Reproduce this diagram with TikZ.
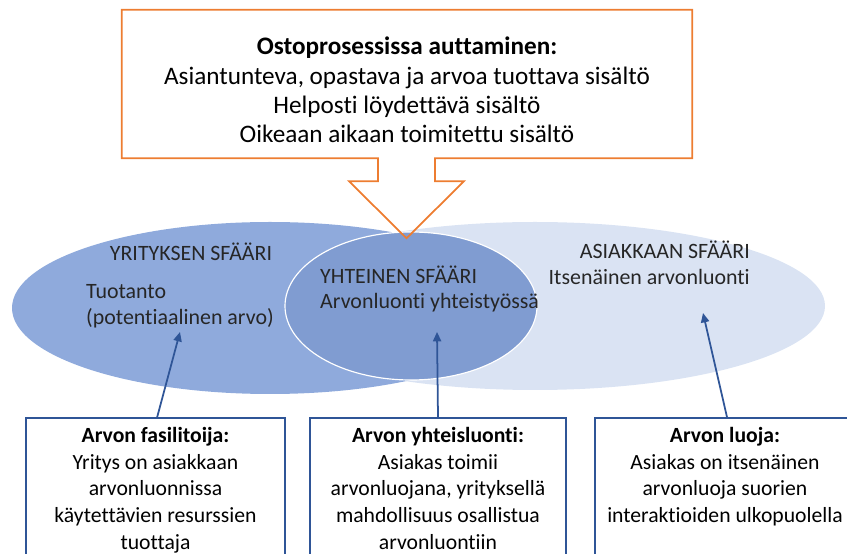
\documentclass[tikz,border=0pt]{standalone}
\usepackage{fontspec}
\setmainfont{Carlito}[Ligatures=NoCommon]
\usetikzlibrary{arrows.meta,positioning}

\definecolor{kehysoranssi}{RGB}{237,125,49}
\definecolor{tummasini}{RGB}{47,85,151}
\definecolor{yrityssini}{RGB}{143,170,220}
\definecolor{yhteissini}{RGB}{128,156,209}
\definecolor{asiakassini}{RGB}{218,227,243}
\definecolor{tekstiharmaa}{RGB}{38,38,38}

\begin{document}
\begin{tikzpicture}[
x=0.3mm, y=-0.3mm,
callout/.style={draw=kehysoranssi,line width=1.5pt,line join=miter},
calltext/.style={font=\fontsize{21.5}{25}\selectfont,align=center,inner sep=0pt},
sfaari/.style={font=\fontsize{18.7}{22}\selectfont,text=tekstiharmaa,inner sep=0pt},
infobox/.style={draw=tummasini,line width=1.5pt,minimum height=42.6mm,inner sep=0pt},
boxtext/.style={font=\fontsize{18.5}{22.8}\selectfont,align=center,inner sep=0pt,anchor=north},
arrow/.style={-{Triangle[length=8pt,width=7pt]},draw=tummasini,line width=1.5pt} ]

\useasboundingbox (0,0) rectangle (847,554);

% sfaarit
\fill[asiakassini] (535,306) ellipse [x radius=290, y radius=84];
\fill[yrityssini] (270,308) ellipse [x radius=258, y radius=86];
\filldraw[fill=yhteissini,draw=white,line width=1pt] (411,306) ellipse [x radius=126, y radius=74];

\node[sfaari] (yritys) at (191,252) {YRITYKSEN SFÄÄRI};
\node[sfaari,anchor=west,align=left] (tuotanto) at (86,306) {Tuotanto\\(potentiaalinen arvo)};
\node[sfaari,anchor=west,align=left] (yhteinen) at (320,289) {YHTEINEN SFÄÄRI\\Arvonluonti yhteistyössä};
\node[sfaari,anchor=east,align=right] (asiakas) at (750,263) {ASIAKKAAN SFÄÄRI\\Itsenäinen arvonluonti};

% ylalaatikko ja nuoli
\node[minimum width=171mm,minimum height=44.4mm,inner sep=0pt] (ostolaatikko) at (407,84) {};
\draw[callout] (ostolaatikko.north west) -- (ostolaatikko.north east)
  -- (ostolaatikko.south east) -- ([xshift=8.4mm]ostolaatikko.south)
  -- ++(0,23) -- ++(29,0) -- ++(-57.5,57) -- ++(-57.5,-57) -- ++(29,0)
  -- ++(0,-23) -- (ostolaatikko.south west) -- cycle;
\node[calltext] (osto) at (407,90) {\textbf{Ostoprosessissa auttaminen:}\\
  Asiantunteva, opastava ja arvoa tuottava sisältö\\
  Helposti löydettävä sisältö\\
  Oikeaan aikaan toimitettu sisältö};

% alalaatikot
\node[infobox,minimum width=77.7mm] (fasil) at (155.5,489) {};
\node[infobox,minimum width=76.8mm] (yhteis) at (438,489) {};
\node[infobox,minimum width=78mm] (luoja) at (725,489) {};

\node[boxtext] (fasilteksti) at ([yshift=-3mm]fasil.north) {\textbf{Arvon fasilitoija:}\\
  Yritys on asiakkaan\\arvonluonnissa\\käytettävien resurssien\\tuottaja};
\node[boxtext] (yhteisteksti) at ([yshift=-3mm]yhteis.north) {\textbf{Arvon yhteisluonti:}\\
  Asiakas toimii\\arvonluojana, yrityksellä\\mahdollisuus osallistua\\arvonluontiin};
\node[boxtext] (luojateksti) at ([yshift=-3mm]luoja.north) {\textbf{Arvon luoja:}\\
  Asiakas on itsenäinen\\arvonluoja suorien\\interaktioiden ulkopuolella};

% nuolet
\coordinate (tuotantokarki) at (180,332);
\coordinate (yhteiskarki) at (437,332);
\coordinate (asiakaskarki) at (703,313);

\draw[arrow] ([xshift=0.5mm]fasil.north) -- (tuotantokarki);
\draw[arrow] (yhteis.north) -- (yhteiskarki);
\draw[arrow] ([xshift=0.6mm]luoja.north) -- (asiakaskarki);

\end{tikzpicture}
\end{document}
